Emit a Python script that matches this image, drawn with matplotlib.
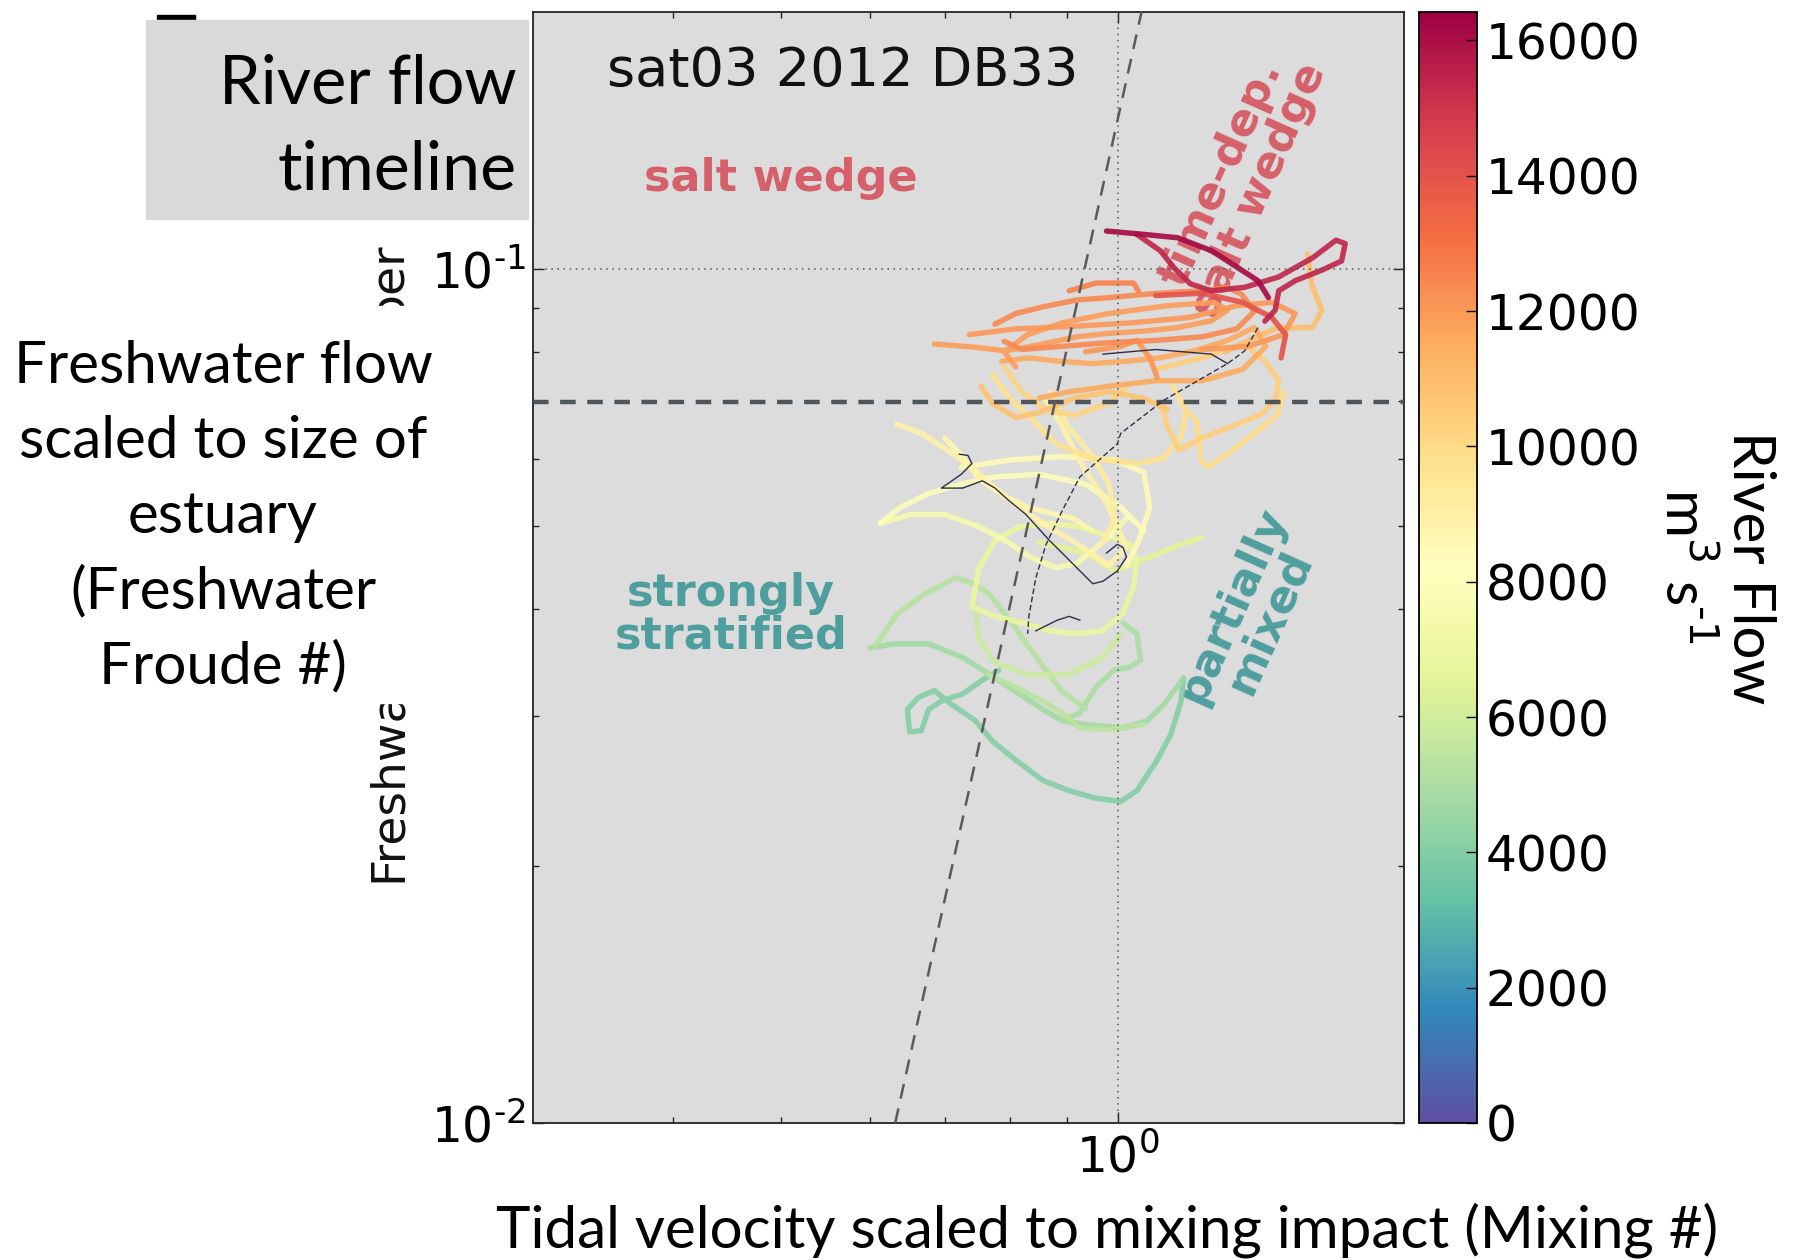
import matplotlib
matplotlib.use("Agg")
import matplotlib.pyplot as plt
from matplotlib.colors import Normalize
from matplotlib.ticker import FixedLocator, NullFormatter, FixedFormatter
from matplotlib.patches import Rectangle
import matplotlib.cm as cm

# ---------------- data (Mixing number, Freshwater Froude number, river flow) ----
mix_t01 = [0.976, 1.054, 1.130, 1.211, 1.280, 1.333, 1.362]
fr_t01 = [0.1108, 0.1098, 0.1088, 0.1051, 0.1003, 0.0969, 0.0926]
flow_t01 = 16200

mix_t02 = [1.039, 1.090, 1.122, 1.160, 1.211, 1.297, 1.391, 1.492, 1.565, 1.595, 1.583, 1.520, 1.439, 1.391, 1.381, 1.352]
fr_t02 = [0.1098, 0.1051, 0.1003, 0.0961, 0.0943, 0.0952, 0.0979, 0.1031, 0.1081, 0.1071, 0.1022, 0.0997, 0.0969, 0.0943, 0.0895, 0.0869]
flow_t02 = 15400

mix_t03 = [1.080, 1.188, 1.292, 1.371, 1.411, 1.398]
fr_t03 = [0.0931, 0.0937, 0.0914, 0.0878, 0.0838, 0.0787]
flow_t03 = 14000

mix_t04 = [0.904, 0.955, 1.032, 1.042]
fr_t04 = [0.0943, 0.0963, 0.0963, 0.0943]
flow_t04 = 12600

mix_t05 = [0.776, 0.810, 0.856, 0.918, 0.983, 1.054, 1.130, 1.194, 1.252, 1.289, 1.323, 1.276, 1.188, 1.080, 0.981, 0.891, 0.820, 0.791]
fr_t05 = [0.0862, 0.0887, 0.0903, 0.0920, 0.0926, 0.0934, 0.0940, 0.0943, 0.0952, 0.0934, 0.0892, 0.0851, 0.0833, 0.0825, 0.0820, 0.0812, 0.0805, 0.0823]
flow_t05 = 12400

mix_t06 = [0.685, 0.745, 0.793, 0.856, 0.918, 0.983, 1.054, 1.130, 1.211, 1.252, 1.217, 1.106, 0.981, 0.891, 0.830, 0.791, 0.810]
fr_t06 = [0.0817, 0.0810, 0.0802, 0.0817, 0.0833, 0.0841, 0.0846, 0.0854, 0.0870, 0.0895, 0.0914, 0.0906, 0.0887, 0.0865, 0.0838, 0.0800, 0.0768]
flow_t06 = 11900

mix_t07 = [0.787, 0.832, 0.885, 0.949, 1.017, 1.090, 1.168, 1.252, 1.323, 1.355, 1.292, 1.188, 1.080, 0.981, 0.902, 0.850]
fr_t07 = [0.0780, 0.0787, 0.0780, 0.0775, 0.0780, 0.0787, 0.0802, 0.0825, 0.0854, 0.0812, 0.0763, 0.0740, 0.0740, 0.0729, 0.0718, 0.0706]
flow_t07 = 11600

mix_t08 = [0.935, 1.005, 1.039, 1.067, 1.083]
fr_t08 = [0.0800, 0.0812, 0.0825, 0.0787, 0.0747]
flow_t08 = 12100

mix_t09 = [1.477, 1.488, 1.520, 1.492, 1.388, 1.307, 1.246]
fr_t09 = [0.1041, 0.0961, 0.0895, 0.0854, 0.0854, 0.0825, 0.0800]
flow_t09 = 11000

mix_t10 = [1.080, 1.188, 1.297, 1.352, 1.391, 1.381, 1.342, 1.262, 1.188, 1.133, 1.106, 1.093]
fr_t10 = [0.0763, 0.0787, 0.0817, 0.0780, 0.0740, 0.0702, 0.0676, 0.0654, 0.0634, 0.0614, 0.0654, 0.0696]
flow_t10 = 10400

mix_t11 = [1.149, 1.176, 1.185, 1.202, 1.262, 1.333, 1.388, 1.405]
fr_t11 = [0.0683, 0.0664, 0.0598, 0.0586, 0.0612, 0.0647, 0.0676, 0.0718]
flow_t11 = 10000

mix_t12 = [0.772, 0.800, 0.840, 0.880, 0.947, 1.042, 1.098, 1.138, 1.149, 1.119]
fr_t12 = [0.0752, 0.0706, 0.0664, 0.0624, 0.0600, 0.0592, 0.0601, 0.0636, 0.0683, 0.0729]
flow_t12 = 9700

mix_t13 = [0.791, 0.820, 0.860, 0.913, 0.981, 1.017]
fr_t13 = [0.0768, 0.0718, 0.0685, 0.0674, 0.0696, 0.0729]
flow_t13 = 10200

mix_t14 = [0.634, 0.667, 0.706, 0.740, 0.776, 0.816, 0.850, 0.913, 0.981, 1.017, 0.981, 0.924, 0.891, 0.860]
fr_t14 = [0.0658, 0.0642, 0.0612, 0.0586, 0.0554, 0.0526, 0.0507, 0.0479, 0.0450, 0.0472, 0.0526, 0.0596, 0.0654, 0.0706]
flow_t14 = 8900

mix_t15 = [0.724, 0.804, 0.891, 0.991, 1.054, 1.067, 1.042, 1.017]
fr_t15 = [0.0586, 0.0598, 0.0603, 0.0598, 0.0578, 0.0526, 0.0479, 0.0450]
flow_t15 = 8500

mix_t16 = [0.613, 0.639, 0.677, 0.724, 0.776, 0.850, 0.935, 1.005, 1.054]
fr_t16 = [0.0504, 0.0526, 0.0546, 0.0560, 0.0571, 0.0575, 0.0560, 0.0526, 0.0494]
flow_t16 = 8000

mix_t17 = [0.613, 0.653, 0.700, 0.751, 0.793, 0.834, 0.880, 0.918, 0.969, 1.017]
fr_t17 = [0.0504, 0.0516, 0.0516, 0.0499, 0.0481, 0.0460, 0.0447, 0.0452, 0.0479, 0.0510]
flow_t17 = 7600

mix_t18 = [0.740, 0.751, 0.776, 0.816, 0.868, 0.924, 0.969, 1.024, 1.039, 1.032, 1.010, 0.969, 0.918, 0.868, 0.823, 0.776, 0.740]
fr_t18 = [0.0402, 0.0447, 0.0481, 0.0499, 0.0504, 0.0499, 0.0489, 0.0476, 0.0456, 0.0425, 0.0396, 0.0377, 0.0374, 0.0377, 0.0385, 0.0392, 0.0402]
flow_t18 = 6800

mix_t19 = [0.850, 0.935, 0.993, 1.054, 1.119, 1.185]
fr_t19 = [0.0479, 0.0465, 0.0443, 0.0457, 0.0472, 0.0485]
flow_t19 = 6500

mix_t20 = [0.605, 0.634, 0.667, 0.715, 0.740, 0.766, 0.793, 0.816, 0.856, 0.891, 0.935]
fr_t20 = [0.0360, 0.0394, 0.0414, 0.0435, 0.0429, 0.0417, 0.0394, 0.0374, 0.0343, 0.0320, 0.0306]
flow_t20 = 5200

mix_t21 = [0.600, 0.631, 0.677, 0.726, 0.776, 0.816, 0.856, 0.891, 0.931, 1.010, 1.062, 1.098, 1.144]
fr_t21 = [0.0360, 0.0364, 0.0364, 0.0351, 0.0332, 0.0318, 0.0305, 0.0296, 0.0293, 0.0290, 0.0296, 0.0309, 0.0332]
flow_t21 = 4700

mix_t22 = [1.010, 1.039, 1.047, 1.024, 0.991, 0.955, 0.924, 0.891]
fr_t22 = [0.0385, 0.0374, 0.0348, 0.0342, 0.0339, 0.0324, 0.0302, 0.0296]
flow_t22 = 5000

mix_t23 = [1.144, 1.138, 1.114, 1.083, 1.039, 1.005, 0.955, 0.904, 0.856, 0.810, 0.772, 0.745, 0.710, 0.685, 0.663, 0.648, 0.651, 0.667, 0.677, 0.695, 0.726, 0.756, 0.782]
fr_t23 = [0.0332, 0.0312, 0.0285, 0.0266, 0.0245, 0.0238, 0.0240, 0.0245, 0.0252, 0.0266, 0.0280, 0.0296, 0.0309, 0.0321, 0.0315, 0.0305, 0.0287, 0.0288, 0.0305, 0.0312, 0.0318, 0.0330, 0.0339]
flow_t23 = 4000

mix_t24 = [0.745, 0.751, 0.776, 0.830, 0.902, 0.969, 1.005]
fr_t24 = [0.0404, 0.0368, 0.0346, 0.0335, 0.0335, 0.0351, 0.0374]
flow_t24 = 5800

mix_t25 = [0.766, 0.810, 0.856, 0.891, 0.924, 0.981, 1.054]
fr_t25 = [0.0335, 0.0324, 0.0312, 0.0302, 0.0290, 0.0289, 0.0293]
flow_t25 = 5400

mix_t26 = [0.736, 0.810, 0.913, 1.029, 1.160, 1.276, 1.371, 1.439, 1.405, 1.307, 1.188]
fr_t26 = [0.0838, 0.0851, 0.0857, 0.0865, 0.0878, 0.0906, 0.0914, 0.0887, 0.0838, 0.0812, 0.0805]
flow_t26 = 12000

mix_t27 = [0.754, 0.772, 0.810, 0.850, 0.913, 0.981, 1.054, 1.106]
fr_t27 = [0.0729, 0.0696, 0.0670, 0.0679, 0.0706, 0.0718, 0.0706, 0.0685]
flow_t27 = 10800

mix_t28 = [0.870, 0.902, 0.947, 0.981, 0.993, 0.969]
fr_t28 = [0.0718, 0.0654, 0.0605, 0.0560, 0.0510, 0.0479]
flow_t28 = 9200

mix_t29 = [0.700, 0.724, 0.751, 0.790, 0.830, 0.870, 0.913, 0.947]
fr_t29 = [0.0634, 0.0605, 0.0568, 0.0543, 0.0526, 0.0518, 0.0510, 0.0494]
flow_t29 = 8700

# thin dark reference traces
mix_n1 = [1.333, 1.297, 1.252, 1.098, 1.005, 0.998, 0.924, 0.891, 0.862, 0.844, 0.832, 0.830]
fr_n1 = [0.0854, 0.0802, 0.0775, 0.0702, 0.0642, 0.0624, 0.0571, 0.0521, 0.0476, 0.0435, 0.0392, 0.0374]
mix_n2 = [0.969, 1.080, 1.211, 1.252]
fr_n2 = [0.0795, 0.0805, 0.0795, 0.0775]
mix_n3 = [0.721, 0.734, 0.740, 0.724, 0.695, 0.726, 0.756, 0.776, 0.798, 0.827, 0.868, 0.891, 0.918, 0.949, 0.969, 0.998, 1.017, 1.010, 0.998, 0.976]
fr_n3 = [0.0607, 0.0605, 0.0592, 0.0575, 0.0554, 0.0554, 0.0565, 0.0554, 0.0536, 0.0516, 0.0481, 0.0465, 0.0447, 0.0428, 0.0431, 0.0443, 0.0460, 0.0472, 0.0476, 0.0465]
mix_n4 = [0.844, 0.882, 0.904, 0.924]
fr_n4 = [0.0377, 0.0388, 0.0392, 0.0388]

# regime boundaries
regime_mix = [0.632, 1.049]
regime_fr = [0.01, 0.2]
fr_threshold = 0.0698
mix_ref = 1.0
fr_ref = 0.1

flow_min, flow_max = 0, 16420
cbar_ticks = [0, 2000, 4000, 6000, 8000, 10000, 12000, 14000, 16000]
x_minor = [0.4, 0.5, 0.6, 0.7, 0.8, 0.9]
y_minor = [0.02, 0.03, 0.04, 0.05, 0.06, 0.07, 0.08, 0.09]
y_major = [0.01, 0.1]
y_major_labels = ['$10^{\u20102}$', '$10^{\u20101}$']

trajectories = [
    (mix_t01, fr_t01, flow_t01), (mix_t02, fr_t02, flow_t02), (mix_t03, fr_t03, flow_t03),
    (mix_t04, fr_t04, flow_t04), (mix_t05, fr_t05, flow_t05), (mix_t06, fr_t06, flow_t06),
    (mix_t07, fr_t07, flow_t07), (mix_t08, fr_t08, flow_t08), (mix_t09, fr_t09, flow_t09),
    (mix_t10, fr_t10, flow_t10), (mix_t11, fr_t11, flow_t11), (mix_t12, fr_t12, flow_t12),
    (mix_t13, fr_t13, flow_t13), (mix_t14, fr_t14, flow_t14), (mix_t15, fr_t15, flow_t15),
    (mix_t16, fr_t16, flow_t16), (mix_t17, fr_t17, flow_t17), (mix_t18, fr_t18, flow_t18),
    (mix_t19, fr_t19, flow_t19), (mix_t20, fr_t20, flow_t20), (mix_t21, fr_t21, flow_t21),
    (mix_t22, fr_t22, flow_t22), (mix_t23, fr_t23, flow_t23), (mix_t24, fr_t24, flow_t24),
    (mix_t25, fr_t25, flow_t25), (mix_t26, fr_t26, flow_t26), (mix_t27, fr_t27, flow_t27),
    (mix_t28, fr_t28, flow_t28), (mix_t29, fr_t29, flow_t29),
]
thin_traces = [(mix_n1, fr_n1, (0, (4, 2))), (mix_n2, fr_n2, '-'), (mix_n3, fr_n3, '-'), (mix_n4, fr_n4, '-')]

# ---------------- figure ----------------
W, H = 1806, 1260
fig = plt.figure(figsize=(W / 100, H / 100), dpi=100)
fig.patch.set_facecolor('white')

def fx(px):
    return px / W

def fy(py):
    return 1 - py / H

ax = fig.add_axes([fx(533), fy(1123), fx(1404) - fx(533), fy(12) - fy(1123)])
cax = fig.add_axes([fx(1419), fy(1123), fx(1477) - fx(1419), fy(12) - fy(1123)])

ax.set_facecolor('#dcdcdc')
ax.set_xscale('log')
ax.set_yscale('log')
ax.set_xlim(0.3, 1.8)
ax.set_ylim(0.01, 0.2)

cmap = plt.get_cmap('Spectral_r')
norm = Normalize(vmin=flow_min, vmax=flow_max)

# reference lines
ax.axvline(mix_ref, color='#555555', lw=1.1, ls=(0, (1, 3)), zorder=4)
ax.axhline(fr_ref, color='#555555', lw=1.1, ls=(0, (1, 3)), zorder=4)
ax.axhline(fr_threshold, color='#50555a', lw=3.2, ls=(0, (3.5, 2.6)), zorder=5)
ax.plot(regime_mix, regime_fr, color='#5a5a5a', lw=1.8, ls=(0, (6, 4)), zorder=5)

# regime labels
lab_red = '#d6606a'
lab_teal = '#4f9e9e'
ax.text(0.356, 0.9334, 'sat03 2012 DB33', transform=ax.transAxes, fontsize=39,
        ha='center', va='baseline', color='#111111', zorder=2)
ax.text(0.285, 0.839, 'salt wedge', transform=ax.transAxes, fontsize=32, fontweight='bold',
        ha='center', va='baseline', color=lab_red, zorder=2)
ax.text(0.227, 0.4653, 'strongly', transform=ax.transAxes, fontsize=32, fontweight='bold',
        ha='center', va='baseline', color=lab_teal, zorder=2)
ax.text(0.227, 0.4275, 'stratified', transform=ax.transAxes, fontsize=32, fontweight='bold',
        ha='center', va='baseline', color=lab_teal, zorder=2)
ax.text(0.812, 0.847, 'time-dep.\nsalt wedge', transform=ax.transAxes, fontsize=32,
        fontweight='bold', ha='center', va='center', rotation=66, rotation_mode='anchor',
        linespacing=0.95, color=lab_red, zorder=2)
ax.text(0.824, 0.458, 'partially\nmixed', transform=ax.transAxes, fontsize=32,
        fontweight='bold', ha='center', va='center', rotation=66, rotation_mode='anchor',
        linespacing=0.95, color=lab_teal, zorder=2)

# trajectories
for mx, fr, q in sorted(trajectories, key=lambda t: t[2]):
    ax.plot(mx, fr, color=cmap(norm(q)), lw=3.9, alpha=0.9, solid_capstyle='round',
            solid_joinstyle='round', zorder=3)
for mx, fr, ls in thin_traces:
    ax.plot(mx, fr, color='#2e2e48', lw=1.0, ls=ls, zorder=6)

# ticks
ax.xaxis.set_major_locator(FixedLocator([1.0]))
ax.xaxis.set_minor_locator(FixedLocator(x_minor))
ax.yaxis.set_major_locator(FixedLocator(y_major))
ax.yaxis.set_major_formatter(FixedFormatter(y_major_labels))
ax.yaxis.set_minor_locator(FixedLocator(y_minor))
ax.xaxis.set_minor_formatter(NullFormatter())
ax.yaxis.set_minor_formatter(NullFormatter())
ax.tick_params(which='both', direction='in', top=True, right=True, width=1, colors='#222222')
ax.tick_params(which='major', length=8, labelsize=35, labelcolor='black')
ax.tick_params(axis='x', which='major', pad=8)
ax.tick_params(axis='y', which='major', pad=5)
ax.tick_params(which='minor', length=4)
for s in ax.spines.values():
    s.set_linewidth(1.3)
    s.set_color('#222222')

# colorbar
sm = cm.ScalarMappable(norm=norm, cmap=cmap)
cb = fig.colorbar(sm, cax=cax, ticks=cbar_ticks)
cb.ax.tick_params(direction='in', length=8, width=1, labelsize=35, pad=6)
cb.outline.set_linewidth(1.3)

# original y label, mostly hidden behind the slide text box: only its two ends show
ylab_full = fig.text(fx(388), fy(562), 'Freshwater Froude Number', rotation=90, fontsize=34,
                     ha='center', va='center', color='#111111', zorder=1)
fig.canvas.draw()
bb = ylab_full.get_window_extent()
ylab_full.remove()
inv = fig.transFigure.inverted()
(x0f, y0f), (x1f, y1f) = inv.transform([[bb.x0, bb.y0], [bb.x1, bb.y1]])
xcf = 0.5 * (x0f + x1f)
fig.text(xcf, y0f, 'Freshwa', rotation=90, fontsize=34, ha='center', va='bottom',
         color='#111111', zorder=1)
fig.text(xcf, y1f, 'ber', rotation=90, fontsize=34, ha='center', va='top',
         color='#111111', zorder=1)

# overlay annotations (slide text boxes)
OV = 'Lato'
FS = 42
fig.patches.append(Rectangle((fx(157), fy(21)), fx(195) - fx(157), fy(15) - fy(21),
                             transform=fig.transFigure, color='black', zorder=4))
fig.patches.append(Rectangle((fx(146), fy(219)), fx(528) - fx(146), fy(20) - fy(219),
                             transform=fig.transFigure, color='#d9d9d9', zorder=5))
fig.patches.append(Rectangle((0, fy(703)), fx(420), fy(306) - fy(703),
                             transform=fig.transFigure, color='white', zorder=5))
fig.text(fx(517), fy(104), 'River flow', ha='right', va='baseline', fontsize=48, family=OV, zorder=6)
fig.text(fx(517), fy(190), 'timeline', ha='right', va='baseline', fontsize=49, family=OV, zorder=6)

fw_lines = ['Freshwater flow', 'scaled to size of', 'estuary', '(Freshwater', 'Froude #)']
fw_base = [383, 458, 533, 608, 683]
for t, b in zip(fw_lines, fw_base):
    fig.text(fx(223), fy(b), t, ha='center', va='baseline', fontsize=FS, family=OV, zorder=6)

fig.text(fx(1107), fy(1247), 'Tidal velocity scaled to mixing impact (Mixing #)', ha='center',
         va='baseline', fontsize=FS, family=OV, zorder=6)

fig.text(fx(1750), fy(568), 'River Flow', rotation=270, ha='center', va='center',
         fontsize=FS, family=OV, zorder=6)
fig.text(fx(1684), fy(566), 'm$^{3}$ s$^{\u20101}$', rotation=270, ha='center', va='center',
         fontsize=FS, family=OV, zorder=6)

fig.savefig('out.png', dpi=100)
